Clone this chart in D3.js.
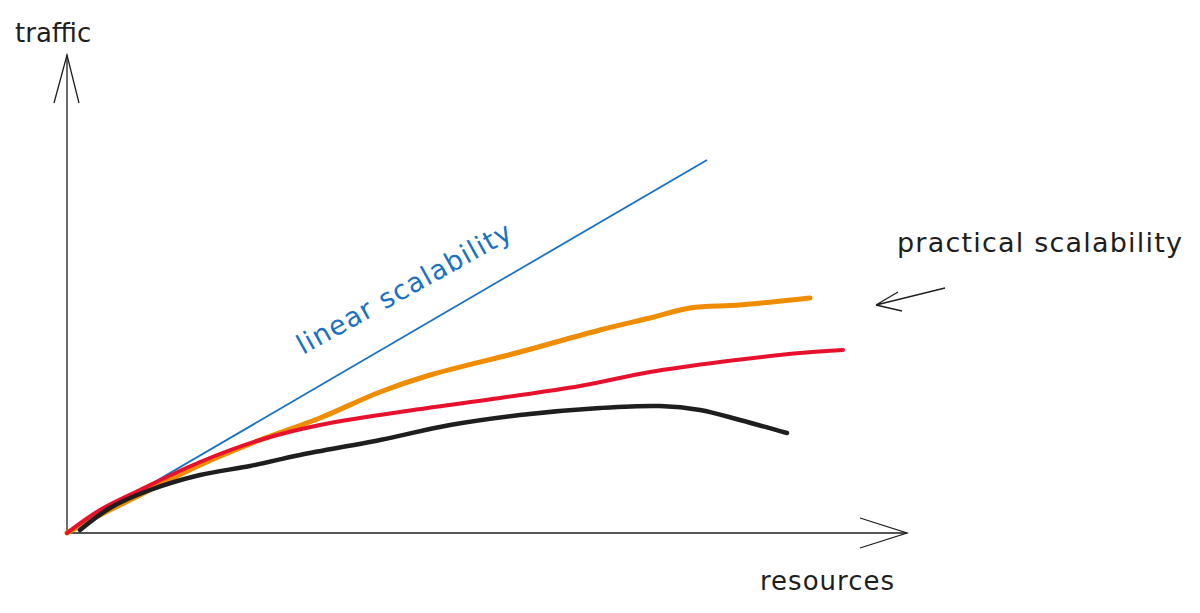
<!DOCTYPE html>
<html><head><meta charset="utf-8">
<script src="https://cdn.jsdelivr.net/npm/d3@7/dist/d3.min.js"></script>
<style>body{margin:0;background:#fff}text{font-family:"DejaVu Sans",sans-serif}</style>
</head><body><svg id="c" width="1200" height="613"></svg>
<script>
// data in chart units (resources, traffic)
const linearX=[0,640], linearY=[0,373];
const orangeX=[0,33,73,133,193,253,313,363,453,533,583,623,673,743];
const orangeY=[0,18,38,68,93,115,141,158,181,203,215,225,228,235];
const redX=[0,33,73,133,193,253,333,433,513,583,653,733,776];
const redY=[0,23,43,71,93,108,121,135,147,161,171,180,183];
const blackX=[13,43,83,133,183,233,313,383,453,533,593,633,673,720];
const blackY=[3,25,43,58,67,78,93,108,118,125,127,123,113,100];
const labels={x:"resources",y:"traffic",linear:"linear scalability",practical:"practical scalability"};

const svg=d3.select("#c");
const x=d3.scaleLinear().domain([0,840]).range([67,907]);
const y=d3.scaleLinear().domain([0,478]).range([533,55]);
const line=d3.line().x(d=>x(d[0])).y(d=>y(d[1])).curve(d3.curveCatmullRom);
const zip=(a,b)=>a.map((v,i)=>[v,b[i]]);

svg.append("line").attr("x1",x(0)).attr("y1",y(0)).attr("x2",x(0)).attr("y2",y(478)).attr("stroke","#1e1e1e").attr("stroke-width",1.3);
svg.append("line").attr("x1",x(0)).attr("y1",y(0)).attr("x2",x(840)).attr("y2",y(0)).attr("stroke","#1e1e1e").attr("stroke-width",1.3);
svg.append("path").attr("d",`M${x(-13)},${y(430)}L${x(0)},${y(478)}L${x(12)},${y(430)}`).attr("fill","none").attr("stroke","#1e1e1e").attr("stroke-width",1.3);
svg.append("path").attr("d",`M${x(793)},${y(15)}L${x(840)},${y(0)}L${x(793)},${y(-15)}`).attr("fill","none").attr("stroke","#1e1e1e").attr("stroke-width",1.3);

svg.append("path").attr("d",line(zip(linearX,linearY))).attr("fill","none").attr("stroke","#1971c2").attr("stroke-width",1.8);
svg.append("path").attr("d",line(zip(orangeX,orangeY))).attr("fill","none").attr("stroke","#f08c00").attr("stroke-width",5).attr("stroke-linecap","round");
svg.append("path").attr("d",line(zip(redX,redY))).attr("fill","none").attr("stroke","#e8112d").attr("stroke-width",4).attr("stroke-linecap","round");
svg.append("path").attr("d",line(zip(blackX,blackY))).attr("fill","none").attr("stroke","#1e1e1e").attr("stroke-width",4.5).attr("stroke-linecap","round");

svg.append("text").attr("x",15).attr("y",42).attr("font-size",26).attr("fill","#1e1e1e").text(labels.y);
svg.append("text").attr("x",760).attr("y",590).attr("font-size",26).attr("letter-spacing",1).attr("fill","#1e1e1e").text(labels.x);
svg.append("text").attr("x",897).attr("y",252).attr("font-size",27).attr("letter-spacing",1.2).attr("fill","#1e1e1e").text(labels.practical);
svg.append("text").attr("transform","translate(303,355) rotate(-29)").attr("font-size",27).attr("letter-spacing",1.2).attr("fill","#1971c2").text(labels.linear);
svg.append("path").attr("d","M945,288L876,305M876,305L902,311M876,305L898,292").attr("fill","none").attr("stroke","#1e1e1e").attr("stroke-width",1.3);
</script></body></html>
